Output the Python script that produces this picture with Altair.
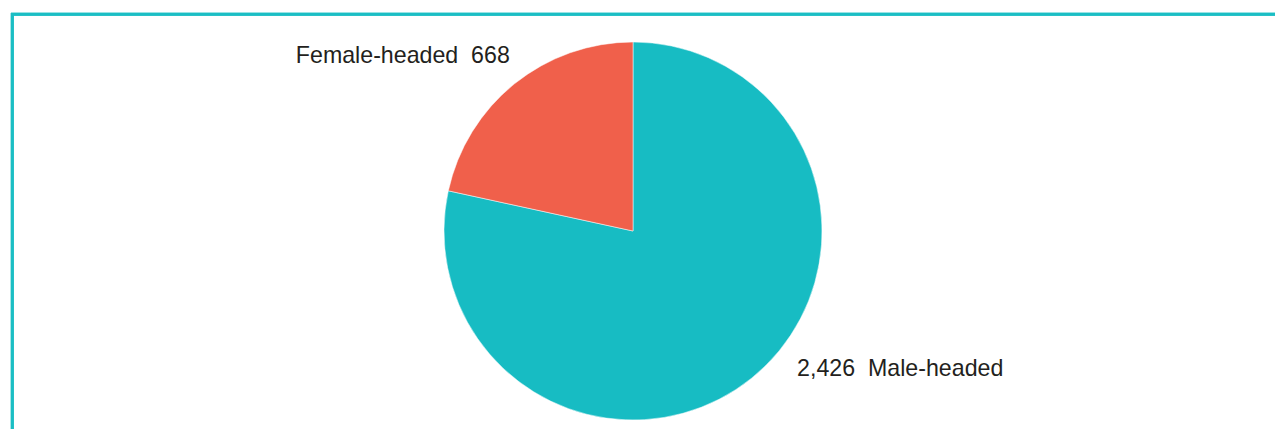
import altair as alt
import pandas as pd

groups = ["Male-headed", "Female-headed"]
counts = [2426, 668]
labels = ["2,426\u00a0\u00a0Male-headed", "Female-headed\u00a0\u00a0668"]
colors = ["#17BCC3", "#F0604B"]

df = pd.DataFrame({"group": groups, "count": counts, "label": labels, "order": [0, 1]})

W, H = 1267, 421
CX, CY = 625, 223
R = 189

base = alt.Chart(df).transform_joinaggregate(
    total="sum(count)"
).transform_stack(
    stack="count", groupby=[], as_=["t0", "t1"], sort=[alt.SortField("order", order="ascending")]
).transform_calculate(
    a0="2 * PI * datum.t0 / datum.total",
    a1="2 * PI * datum.t1 / datum.total",
    am="PI * (datum.t0 + datum.t1) / datum.total",
)

pie = base.mark_arc(radius=R, stroke="white", strokeWidth=0.5).encode(
    theta=alt.Theta("a0:Q", stack=None, scale=None),
    theta2="a1:Q",
    x=alt.value(CX), y=alt.value(CY),
    color=alt.Color("group:N", scale=alt.Scale(domain=groups, range=colors), legend=None),
)

txt_common = dict(font="Liberation Sans", fontSize=23.2, color="#231F20")

female_lbl = base.transform_filter(alt.datum.group == "Female-headed").mark_text(
    radius=225, align="right", baseline="middle", dx=18, dy=0, **txt_common
).encode(
    theta=alt.Theta("am:Q", stack=None, scale=None), x=alt.value(CX), y=alt.value(CY), text="label:N"
)

male_lbl = base.transform_filter(alt.datum.group == "Male-headed").mark_text(
    radius=177, align="left", baseline="middle", dx=53, dy=0, **txt_common
).encode(
    theta=alt.Theta("am:Q", stack=None, scale=None), x=alt.value(CX), y=alt.value(CY), text="label:N"
)

frame_col = "#1BBEC4"
top_rule = alt.Chart(df).mark_rule(color=frame_col, strokeWidth=3).encode(
    x=alt.value(3), x2=alt.value(W + 20), y=alt.value(6.3)
)
left_rule = alt.Chart(df).mark_rule(color=frame_col, strokeWidth=3).encode(
    x=alt.value(4.3), y=alt.value(5), y2=alt.value(H + 20)
)

chart = alt.layer(top_rule, left_rule, pie, female_lbl, male_lbl).properties(
    width=W, height=H, padding=0, autosize=alt.AutoSizeParams(type="none")
).configure_view(stroke=None)

chart.save("out.html", embed_options={"renderer": "svg", "actions": False})
